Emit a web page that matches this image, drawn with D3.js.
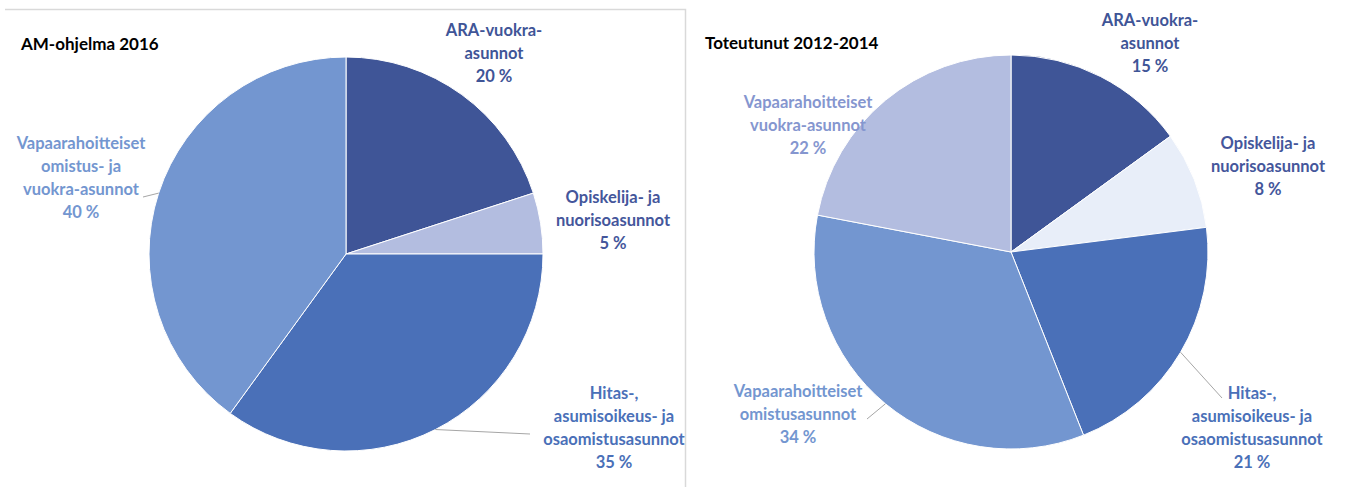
<!DOCTYPE html>
<html>
<head>
<meta charset="utf-8">
<script src="https://cdn.jsdelivr.net/npm/d3@7"></script>
<style>
  body { margin: 0; background: #fff; }
  svg { display: block; }
</style>
</head>
<body>
<script>
// AM-ohjelma 2016
var amCategories = [
  ["ARA-vuokra-", "asunnot"],
  ["Opiskelija- ja", "nuorisoasunnot"],
  ["Hitas-,", "asumisoikeus- ja", "osaomistusasunnot"],
  ["Vapaarahoitteiset", "omistus- ja", "vuokra-asunnot"]
];
var amValues = [20, 5, 35, 40];

// Toteutunut 2012-2014
var totCategories = [
  ["ARA-vuokra-", "asunnot"],
  ["Opiskelija- ja", "nuorisoasunnot"],
  ["Hitas-,", "asumisoikeus- ja", "osaomistusasunnot"],
  ["Vapaarahoitteiset", "omistusasunnot"],
  ["Vapaarahoitteiset", "vuokra-asunnot"]
];
var totValues = [15, 8, 21, 34, 22];

var W = 1345, H = 487;

var svg = d3.select("body").append("svg")
    .attr("width", W)
    .attr("height", H);

// frame of the left chart
svg.append("path")
    .attr("d", "M5,9.5H685.5V487")
    .attr("fill", "none")
    .attr("stroke", "#d9d9d9")
    .attr("stroke-width", 1.5);

function drawPie(opts) {
  var g = svg.append("g");
  var pie = d3.pie().sort(null).value(function(d) { return d; });
  var arc = d3.arc().innerRadius(0).outerRadius(opts.r);
  var arcs = pie(opts.values);

  g.append("text")
      .attr("x", opts.titleX)
      .attr("y", opts.titleY)
      .attr("font-family", "Lato, 'Open Sans', sans-serif")
      .attr("font-weight", "bold")
      .attr("font-size", 17)
      .attr("fill", "#000")
      .text(opts.title);

  var pg = g.append("g").attr("transform", "translate(" + opts.cx + "," + opts.cy + ")");
  pg.selectAll("path")
      .data(arcs)
    .enter().append("path")
      .attr("d", arc)
      .attr("fill", function(d, i) { return opts.colors[i]; })
      .attr("stroke", "#fff")
      .attr("stroke-width", 1);

  // leader lines
  arcs.forEach(function(d, i) {
    var lp = opts.labels[i];
    if (!lp.leader) return;
    var a = (d.startAngle + d.endAngle) / 2;
    var x0 = opts.cx + Math.sin(a) * opts.r, y0 = opts.cy - Math.cos(a) * opts.r;
    g.append("path")
        .attr("d", "M" + x0 + "," + y0 + "L" + lp.leader[0] + "," + lp.leader[1])
        .attr("fill", "none")
        .attr("stroke", "#a6a6a6")
        .attr("stroke-width", 1);
  });

  arcs.forEach(function(d, i) {
    var lp = opts.labels[i];
    var lines = opts.categories[i].concat([opts.values[i] + " %"]);
    var t = g.append("text")
        .attr("text-anchor", "middle")
        .attr("font-family", "Lato, 'Open Sans', sans-serif")
        .attr("font-weight", "bold")
        .attr("font-size", 16.5)
        .attr("fill", opts.textColors[i]);
    lines.forEach(function(s, j) {
      t.append("tspan")
          .attr("x", lp.x)
          .attr("y", lp.y + j * 23)
          .text(s);
    });
  });
}

drawPie({
  title: "AM-ohjelma 2016", titleX: 21, titleY: 50,
  cx: 346, cy: 254, r: 197,
  values: amValues, categories: amCategories,
  colors: ["#3f5597", "#b3bde0", "#4a70b8", "#7396d0"],
  textColors: ["#3f5597", "#44569b", "#4a70b8", "#7396d0"],
  labels: [
    {x: 494, y: 36},
    {x: 613, y: 203},
    {x: 614, y: 399, leader: [530, 434]},
    {x: 81, y: 149, leader: [143, 197]}
  ]
});

drawPie({
  title: "Toteutunut 2012-2014", titleX: 705, titleY: 49,
  cx: 1011, cy: 252, r: 197,
  values: totValues, categories: totCategories,
  colors: ["#3f5597", "#e8eef9", "#4a70b8", "#7396d0", "#b3bde0"],
  textColors: ["#3f5597", "#44569b", "#4a70b8", "#7396d0", "#8596cf"],
  labels: [
    {x: 1150, y: 26},
    {x: 1268, y: 149},
    {x: 1252, y: 399, leader: [1222, 398]},
    {x: 798, y: 397, leader: [867, 419]},
    {x: 808, y: 108}
  ]
});
</script>
</body>
</html>
